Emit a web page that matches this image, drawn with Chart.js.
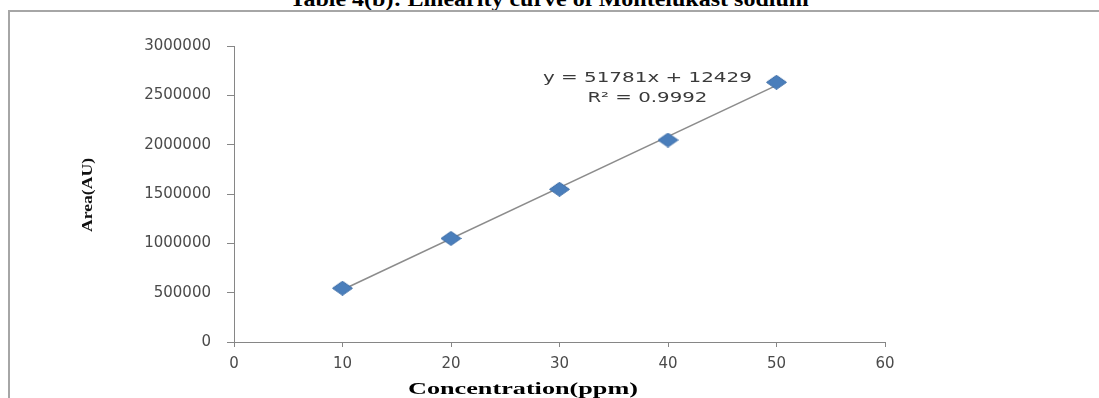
<!DOCTYPE html>
<html>
<head>
<meta charset="utf-8">
<script src="https://cdn.jsdelivr.net/npm/chart.js@4.4.1/dist/chart.umd.min.js"></script>
<style>
  html, body { margin: 0; padding: 0; background: #fff; overflow: hidden; }
  #wrap { position: relative; width: 100vw; height: 398px; overflow: hidden; }
  #frame {
    position: absolute; left: 8px; top: 10px; width: 1300px; height: 500px;
    border-top: 2px solid #a6a6a6; border-left: 2px solid #a6a6a6;
  }
  #titulo {
    position: absolute; left: 0; top: -11px; width: 1099px; text-align: center;
    font: bold 20px "Liberation Serif", "Times New Roman", serif; line-height: 20px;
    color: #000; transform: scaleX(1.2); transform-origin: 551px 0;
    white-space: nowrap;
  }
  #grafico { position: absolute; left: 0; top: 0; }
</style>
</head>
<body>
<div id="wrap">
  <div id="titulo">Table 4(b): Linearity curve of Montelukast sodium</div>
  <div id="frame"></div>
  <canvas id="grafico" width="1099" height="398"></canvas>
</div>
<script>
// Datos
const concentraciones = [10, 20, 30, 40, 50];
const areas = [545000, 1050000, 1548000, 2047000, 2632000];

// Linea de tendencia (extremos)
const tendenciaX = [10, 50];
const tendenciaY = [530000, 2601000];

const ticksX = [0, 10, 20, 30, 40, 50, 60];
const ticksY = [0, 500000, 1000000, 1500000, 2000000, 2500000, 3000000];

const ecuacion = 'y = 51781x + 12429';
const r2 = 'R\u00B2 = 0.9992';
const tituloX = 'Concentration(ppm)';
const tituloY = 'Area(AU)';

// Marcador rombo (algo mas ancho que alto, como en el original)
function crearRombo() {
    const c = document.createElement('canvas');
    c.width = 21; c.height = 15;
    const g = c.getContext('2d');
    g.beginPath();
    g.moveTo(10.5, 0.5);
    g.lineTo(20.5, 7.5);
    g.lineTo(10.5, 14.5);
    g.lineTo(0.5, 7.5);
    g.closePath();
    g.fillStyle = '#4a7ebb';
    g.fill();
    g.strokeStyle = '#3f6fa8';
    g.lineWidth = 1;
    g.stroke();
    return c;
}

// Texto estirado horizontalmente
function textoEstirado(ctx, texto, x, y, ancho) {
    const w = ctx.measureText(texto).width;
    ctx.save();
    ctx.translate(x, y);
    ctx.scale(ancho / w, 1);
    ctx.textAlign = 'center';
    ctx.fillText(texto, 0, 0);
    ctx.restore();
}

const etiquetas = {
    id: 'etiquetas',
    afterDraw(chart) {
        const ctx = chart.ctx;
        const sx = chart.scales.x;
        const sy = chart.scales.y;

        // Ecuacion y R2
        ctx.save();
        ctx.fillStyle = '#3a3a3a';
        ctx.font = '14px "DejaVu Sans"';
        ctx.textBaseline = 'middle';
        const ex = sx.getPixelForValue(38.1);
        const ey = sy.getPixelForValue(2676000);
        textoEstirado(ctx, ecuacion, ex, ey, 209);
        textoEstirado(ctx, r2, ex, ey + 20, 120);
        ctx.restore();

        // Titulo eje X
        ctx.save();
        ctx.fillStyle = '#000';
        ctx.font = 'bold 16.5px "Liberation Serif"';
        ctx.textBaseline = 'alphabetic';
        textoEstirado(ctx, tituloX, 523, 394, 230);
        ctx.restore();

        // Titulo eje Y
        ctx.save();
        ctx.fillStyle = '#111';
        ctx.font = 'bold 15px "Liberation Serif"';
        ctx.textBaseline = 'middle';
        ctx.translate(88, 195);
        ctx.rotate(-Math.PI / 2);
        textoEstirado(ctx, tituloY, 0, 0, 74);
        ctx.restore();
    }
};

const ctx = document.getElementById('grafico').getContext('2d');
new Chart(ctx, {
    type: 'scatter',
    data: {
        datasets: [{
            label: 'Area',
            data: concentraciones.map((c, i) => ({ x: c, y: areas[i] })),
            pointStyle: crearRombo(),
            pointRadius: 8,
            showLine: false
        }, {
            label: 'Tendencia',
            data: tendenciaX.map((c, i) => ({ x: c, y: tendenciaY[i] })),
            showLine: true,
            borderColor: '#8c8c8c',
            borderWidth: 1.5,
            pointRadius: 0
        }]
    },
    options: {
        responsive: false,
        animation: false,
        layout: { padding: { left: 0, top: 46, right: 214, bottom: 0 } },
        plugins: {
            legend: { display: false },
            tooltip: { enabled: false }
        },
        scales: {
            x: {
                type: 'linear',
                min: 0,
                max: 60,
                afterFit: s => { s.height = 56; },
                afterBuildTicks: s => { s.ticks = ticksX.map(v => ({ value: v })); },
                ticks: {
                    color: '#4a4a4a',
                    font: { family: 'DejaVu Sans', size: 15 },
                    padding: 8,
                    callback: v => String(v)
                },
                grid: { drawOnChartArea: false, drawTicks: true, tickLength: 5, color: '#868686' },
                border: { display: true, color: '#868686', width: 1 }
            },
            y: {
                type: 'linear',
                min: 0,
                max: 3000000,
                afterFit: s => { s.width = 234; },
                afterBuildTicks: s => { s.ticks = ticksY.map(v => ({ value: v })); },
                ticks: {
                    color: '#4a4a4a',
                    font: { family: 'DejaVu Sans', size: 15 },
                    padding: 16,
                    callback: v => String(v)
                },
                grid: { drawOnChartArea: false, drawTicks: true, tickLength: 7, color: '#868686' },
                border: { display: true, color: '#868686', width: 1 }
            }
        }
    },
    plugins: [etiquetas]
});
</script>
</body>
</html>
